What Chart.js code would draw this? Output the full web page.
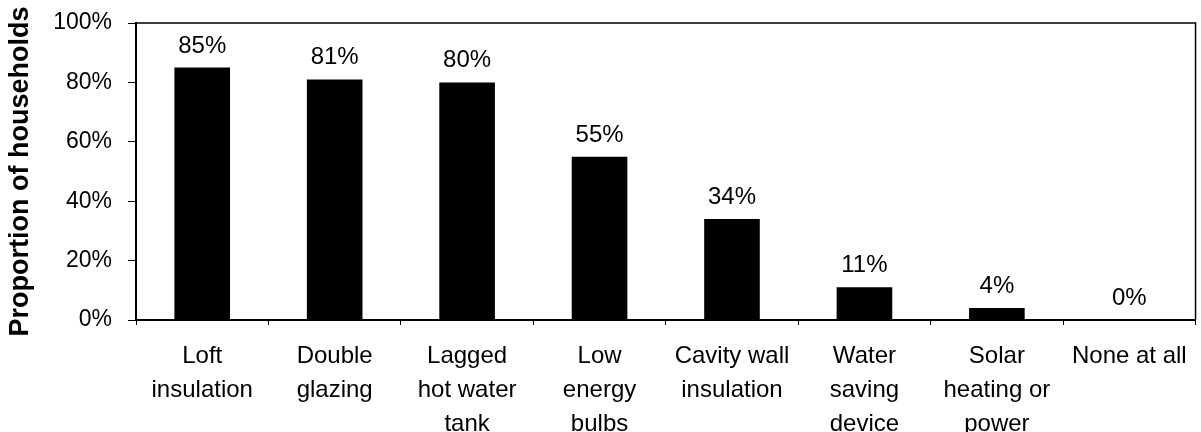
<!DOCTYPE html>
<html>
<head>
<meta charset="utf-8">
<script src="https://cdn.jsdelivr.net/npm/chart.js@4"></script>
<style>
  html, body { margin: 0; padding: 0; background: #fff; }
  #wrap { width: 1201px; height: 432px; }
</style>
</head>
<body>
<div id="wrap"><canvas id="chart" width="1201" height="432"></canvas></div>
<script>
// categories and values
const categories = [
    ['Loft', 'insulation'],
    ['Double', 'glazing'],
    ['Lagged', 'hot water', 'tank'],
    ['Low', 'energy', 'bulbs'],
    ['Cavity wall', 'insulation'],
    ['Water', 'saving', 'device'],
    ['Solar', 'heating or', 'power'],
    ['None at all']
];
const shares = [85, 81, 80, 55, 34, 11, 4, 0];
const yTicks = [0, 20, 40, 60, 80, 100];

const FONT = 'Liberation Sans, Arial, sans-serif';

// value labels above bars + top/right frame
const valueLabels = {
    id: 'valueLabels',
    afterDatasetsDraw(chart) {
        const ctx = chart.ctx;
        const meta = chart.getDatasetMeta(0);
        ctx.save();
        ctx.fillStyle = '#000';
        ctx.font = '24px ' + FONT;
        ctx.textAlign = 'center';
        ctx.textBaseline = 'alphabetic';
        meta.data.forEach((bar, i) => {
            ctx.fillText(shares[i] + '%', bar.x, bar.y - 15);
        });
        ctx.restore();
    },
    afterDraw(chart) {
        const a = chart.chartArea;
        const ctx = chart.ctx;
        ctx.save();
        ctx.strokeStyle = '#000';
        ctx.lineWidth = 1.5;
        ctx.beginPath();
        ctx.moveTo(a.left, a.top);
        ctx.lineTo(a.right, a.top);
        ctx.lineTo(a.right, a.bottom);
        ctx.stroke();
        ctx.restore();
    }
};

new Chart(document.getElementById('chart').getContext('2d'), {
    type: 'bar',
    data: {
        labels: categories,
        datasets: [{
            data: shares,
            backgroundColor: '#000',
            borderWidth: 0,
            categoryPercentage: 1,
            barPercentage: 0.42
        }]
    },
    options: {
        responsive: false,
        animation: false,
        layout: { padding: { top: 23, right: 5, left: 0, bottom: 0 } },
        plugins: {
            legend: { display: false },
            tooltip: { enabled: false }
        },
        scales: {
            y: {
                min: 0,
                max: 100,
                afterFit: s => {
                    s.width = 136;
                    s.paddingTop = 0;
                    s.paddingBottom = 0;
                },
                afterBuildTicks: s => { s.ticks = yTicks.map(v => ({ value: v })); },
                title: {
                    display: true,
                    text: 'Proportion of households',
                    color: '#000',
                    font: { family: FONT, size: 27, weight: 'bold' },
                    padding: { top: 4, bottom: 0 }
                },
                ticks: {
                    color: '#000',
                    font: { family: FONT, size: 23 },
                    padding: 16,
                    callback: v => v + '%'
                },
                grid: {
                    drawOnChartArea: false,
                    drawTicks: true,
                    tickLength: 8,
                    color: '#000'
                },
                border: { display: true, color: '#000', width: 2 }
            },
            x: {
                afterFit: s => { s.height = 112; },
                ticks: {
                    color: '#000',
                    font: { family: FONT, size: 24, lineHeight: 1.42 },
                    padding: 14,
                    maxRotation: 0,
                    autoSkip: false
                },
                grid: {
                    offset: true,
                    drawOnChartArea: false,
                    drawTicks: true,
                    tickLength: 5,
                    color: '#000'
                },
                border: { display: true, color: '#000', width: 2 }
            }
        }
    },
    plugins: [valueLabels]
});
</script>
</body>
</html>
